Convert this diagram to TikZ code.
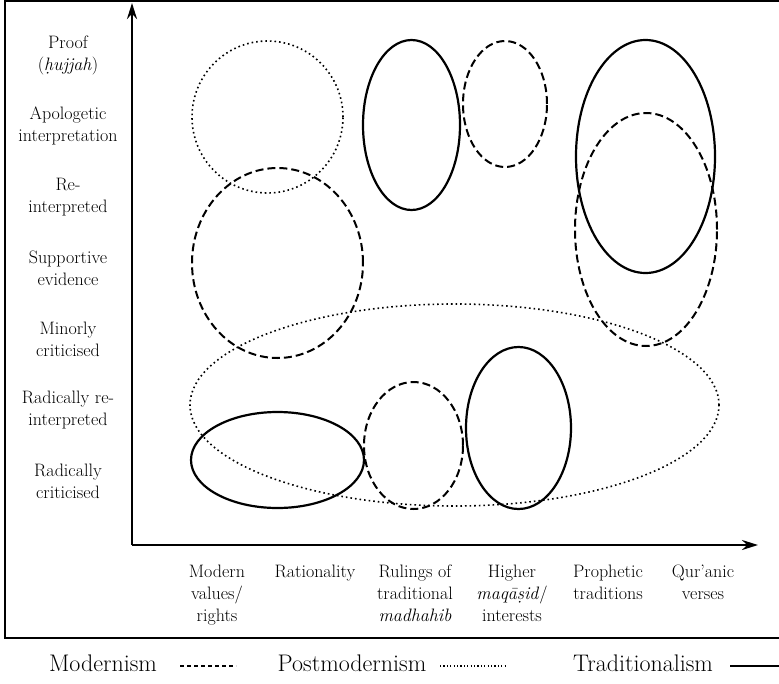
\documentclass[tikz,border=0pt]{standalone}
\usepackage{fontspec}
\usetikzlibrary{arrows.meta}
\begin{document}
\begin{tikzpicture}[x=1pt,y=-1pt,
  >={Stealth[length=16pt,width=10pt]},
  lbl/.style={font=\fontsize{18}{22}\selectfont, align=center, inner sep=0pt},
  legendtxt/.style={font=\fontsize{24}{26}\selectfont, inner sep=0pt},
  modernism/.style={line width=2pt, dash pattern=on 8pt off 4pt},
  postmodernism/.style={line width=1.6pt, dash pattern=on 1.6pt off 3pt},
  traditionalism/.style={line width=2.2pt}]
	\useasboundingbox (0,0) rectangle (779,683);
	\draw[line width=2pt] (5,1) rectangle (785,638);

	% axes
	\coordinate (origin) at (132,545);
	\coordinate (ytop) at (132,3);
	\coordinate (xend) at (758,545);
	\draw[line width=2.4pt,->] (origin) -- (ytop);
	\draw[line width=2.4pt,->] (origin) -- (xend);

	% levels
	\node[lbl] (proof) at (68,55) {Proof\\(\textit{ḥujjah})};
	\node[lbl] (apol) at (68,126) {Apologetic\\interpretation};
	\node[lbl] (reint) at (68,197) {Re-\\interpreted};
	\node[lbl] (supp) at (68,268) {Supportive\\evidence};
	\node[lbl] (minor) at (68,339) {Minorly\\criticised};
	\node[lbl] (radre) at (68,410) {Radically re-\\interpreted};
	\node[lbl] (radcr) at (68,481) {Radically\\criticised};

	% sources
	\node[lbl, anchor=north] (modern) at (217,565) {Modern\\values/\\rights};
	\node[lbl, anchor=north] (ratio) at (315,565) {Rationality};
	\node[lbl, anchor=north] (rulings) at (415,565) {Rulings of\\traditional\\\textit{madhahib}};
	\node[lbl, anchor=north] (higher) at (512,565) {Higher\\\textit{maqāṣid}/\\interests};
	\node[lbl, anchor=north] (prophet) at (608,565) {Prophetic\\traditions};
	\node[lbl, anchor=north] (quran) at (703,565) {Qur’anic\\verses};

	% positions
	\draw[postmodernism] (267.5,117) ellipse [x radius=75.5pt, y radius=76pt];
	\draw[modernism] (277.5,263) ellipse [x radius=85.5pt, y radius=95pt];
	\draw[traditionalism] (411.5,125) ellipse [x radius=48.5pt, y radius=85pt];
	\draw[modernism] (505,104) ellipse [x radius=42pt, y radius=63pt];
	\draw[traditionalism] (645.5,156.5) ellipse [x radius=69.5pt, y radius=116.5pt];
	\draw[modernism] (646,229.5) ellipse [x radius=71pt, y radius=116.5pt];
	\draw[postmodernism] (454.5,405) ellipse [x radius=264.5pt, y radius=101pt];
	\draw[traditionalism] (277.5,460) ellipse [x radius=86.5pt, y radius=48pt];
	\draw[modernism] (413.5,445.5) ellipse [x radius=49.5pt, y radius=63.5pt];
	\draw[traditionalism] (518.5,428) ellipse [x radius=52.5pt, y radius=81pt];

	% legend
	\node[legendtxt] (modkey) at (103,663) {Modernism};
	\node[legendtxt] (postkey) at (352,663) {Postmodernism};
	\node[legendtxt] (tradkey) at (643,663) {Traditionalism};
	\draw[modernism, line width=2.6pt, dash pattern=on 4pt off 3pt] (180,666) -- (236,666);
	\draw[postmodernism, line width=1.2pt, dash pattern=on 1.2pt off 2.2pt] (440,666) -- (505,666);
	\draw[traditionalism, line width=2.6pt] (730,666) -- (785,666);
\end{tikzpicture}
\end{document}
